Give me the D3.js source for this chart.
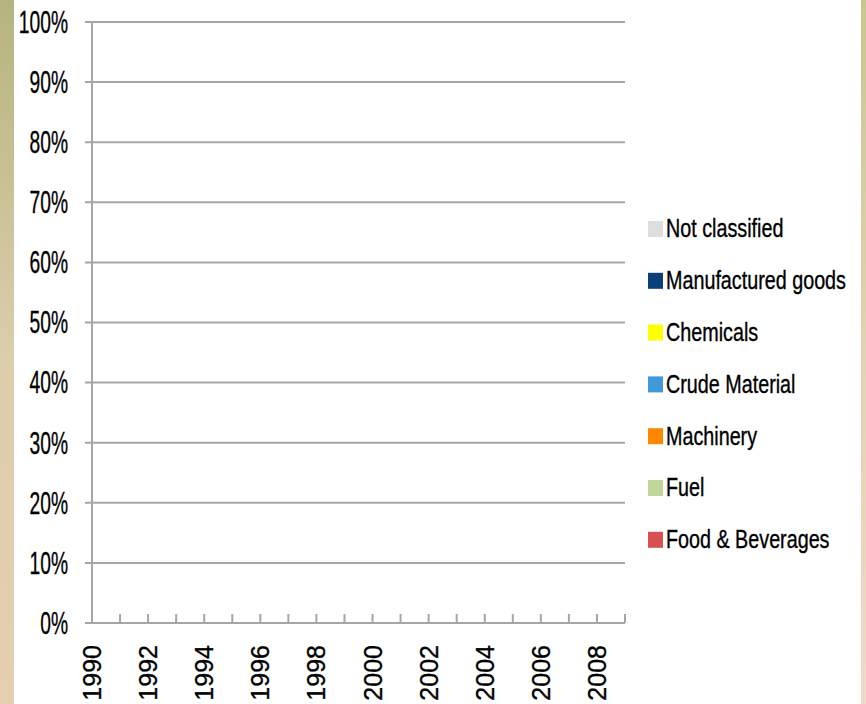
<!DOCTYPE html>
<html>
<head>
<meta charset="utf-8">
<script src="https://cdn.jsdelivr.net/npm/d3@7"></script>
<style>
  html, body { margin: 0; padding: 0; background: #fff; }
  svg { display: block; }
  text { font-family: "Liberation Sans", Arial, sans-serif; fill: #000; stroke: #000; stroke-width: 0.35px; }
</style>
</head>
<body>
<svg id="chart" width="866" height="704"></svg>
<script>
// Categories along the x axis and tick labels
const years = [1990, 1991, 1992, 1993, 1994, 1995, 1996, 1997, 1998, 1999,
               2000, 2001, 2002, 2003, 2004, 2005, 2006, 2007, 2008];
const yearTickMarks = [1990, 1991, 1992, 1993, 1994, 1995, 1996, 1997, 1998, 1999,
                       2000, 2001, 2002, 2003, 2004, 2005, 2006, 2007, 2008, 2009];
const yearLabels = [1990, 1992, 1994, 1996, 1998, 2000, 2002, 2004, 2006, 2008];
const percentTicks = [0, 0.1, 0.2, 0.3, 0.4, 0.5, 0.6, 0.7, 0.8, 0.9, 1.0];

// Series (share of trade by product group); no values recorded
const foodBeverages = [];
const fuel = [];
const crudeMaterial = [];
const machinery = [];
const chemicals = [];
const manufacturedGoods = [];
const notClassified = [];

// Legend order (top to bottom) and colours
const seriesNames = ["Not classified", "Manufactured goods", "Chemicals",
                     "Crude Material", "Machinery", "Fuel", "Food & Beverages"];
const seriesColors = ["#dedede", "#0a3f7a", "#ffff00", "#409ad8", "#ff8800", "#c2d69b", "#da4f4f"];
const seriesValues = [notClassified, manufacturedGoods, chemicals,
                      crudeMaterial, machinery, fuel, foodBeverages];

const svg = d3.select("#chart");

// Decorative side strips
const defs = svg.append("defs");
const gl = defs.append("linearGradient").attr("id", "leftStrip")
  .attr("x1", 0).attr("y1", 0).attr("x2", 0).attr("y2", 1);
gl.append("stop").attr("offset", "0%").attr("stop-color", "#b5b47f");
gl.append("stop").attr("offset", "50%").attr("stop-color", "#dccdab");
gl.append("stop").attr("offset", "100%").attr("stop-color", "#e6cfb1");
const gr = defs.append("linearGradient").attr("id", "rightStrip")
  .attr("x1", 0).attr("y1", 0).attr("x2", 0).attr("y2", 1);
gr.append("stop").attr("offset", "0%").attr("stop-color", "#c9c690");
gr.append("stop").attr("offset", "50%").attr("stop-color", "#e3d2b4");
gr.append("stop").attr("offset", "100%").attr("stop-color", "#f0d9c8");
svg.append("rect").attr("x", 0).attr("y", 0).attr("width", 14).attr("height", 704)
  .attr("fill", "url(#leftStrip)");
svg.append("rect").attr("x", 861).attr("y", 0).attr("width", 5).attr("height", 704)
  .attr("fill", "url(#rightStrip)");

// Scales
const x = d3.scaleLinear().domain([1990, 2009]).range([92, 625]);
const y = d3.scaleLinear().domain([0, 1]).range([623, 22]);
const band = x(1991) - x(1990);

const gridColor = "#a6a6a6";

// Horizontal gridlines with short outer ticks
svg.append("g").selectAll("line").data(percentTicks).join("line")
  .attr("x1", 85).attr("x2", x(2009))
  .attr("y1", d => y(d)).attr("y2", d => y(d))
  .attr("stroke", gridColor).attr("stroke-width", 2);

// Stacked columns
const rows = years.map((yr, i) => {
  const row = { year: yr };
  seriesNames.forEach((n, k) => { row[n] = seriesValues[k][i]; });
  return row;
}).filter(r => seriesNames.every(n => r[n] != null));
const stacked = d3.stack().keys(seriesNames.slice().reverse())(rows);
svg.append("g").selectAll("g").data(stacked).join("g")
  .attr("fill", s => seriesColors[seriesNames.indexOf(s.key)])
  .selectAll("rect").data(s => s).join("rect")
  .attr("x", d => x(d.data.year) + band * 0.1)
  .attr("width", band * 0.8)
  .attr("y", d => y(d[1]))
  .attr("height", d => y(d[0]) - y(d[1]));

// Y axis line
svg.append("line")
  .attr("x1", x(1990)).attr("x2", x(1990))
  .attr("y1", y(1)).attr("y2", y(0))
  .attr("stroke", gridColor).attr("stroke-width", 2);

// X axis inner tick marks
svg.append("g").selectAll("line").data(yearTickMarks).join("line")
  .attr("x1", d => x(d)).attr("x2", d => x(d))
  .attr("y1", y(0)).attr("y2", y(0) - 9)
  .attr("stroke", gridColor).attr("stroke-width", 2);

// Y tick labels
const pct = d3.format(".0%");
svg.append("g").selectAll("text").data(percentTicks).join("text")
  .attr("transform", d => `translate(68,${y(d)}) scale(0.62,1)`)
  .attr("text-anchor", "end")
  .attr("dominant-baseline", "central")
  .attr("font-size", 31)
  .text(d => pct(d));

// X tick labels, rotated
svg.append("g").selectAll("text").data(yearLabels).join("text")
  .attr("transform", d => `translate(${x(d)},645) rotate(-90)`)
  .attr("text-anchor", "end")
  .attr("dominant-baseline", "central")
  .attr("font-size", 25)
  .text(d => d);

// Legend
const legend = svg.append("g").selectAll("g").data(seriesNames).join("g")
  .attr("transform", (d, i) => `translate(648,${229 + i * 51.8})`);
legend.append("rect")
  .attr("x", 0).attr("y", -8).attr("width", 15).attr("height", 16)
  .attr("fill", (d, i) => seriesColors[i]);
legend.append("text")
  .attr("transform", "translate(18,0) scale(0.79,1)")
  .attr("dominant-baseline", "central")
  .attr("font-size", 25)
  .text(d => d);
</script>
</body>
</html>
